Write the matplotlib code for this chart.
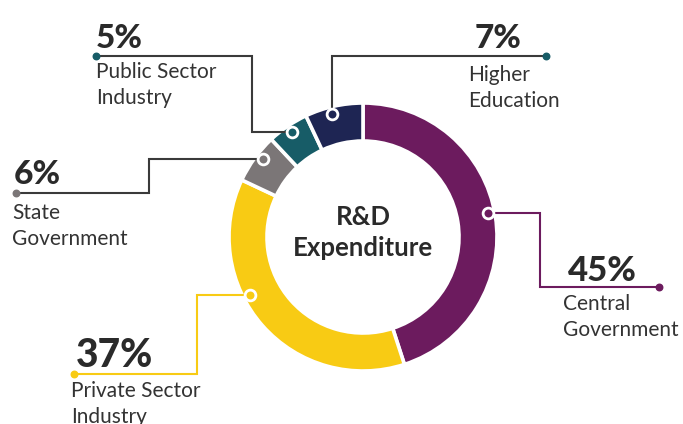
""" Donut chart of R&D expenditure by sector, with stepped leader lines."""

import numpy as np
import matplotlib
matplotlib.use("Agg")
import matplotlib.pyplot as plt

plt.rcParams.update({"font.family": "Lato"})

# data
sectors = [["Central", "Government"], ["Private Sector", "Industry"],
           ["State", "Government"], ["Public Sector", "Industry"],
           ["Higher", "Education"]]
shares = [45, 37, 6, 5, 7]  # percent
colors = ["#6c1b5e", "#f8cb14", "#7b7677", "#175c67", "#1e2553"]
center_title = ["R&D", "Expenditure"]

# layout (pixel coords, y measured from top of the picture)
W, H = 683, 424
cx, cy = 363, 237
r_out, r_in, r_mark = 134, 96, 127
marker_ang = [11, -153, 142, 124, 104]          # degrees, ccw from +x
elbow_x = [540, 197, 149, 252, None]           # None -> go vertical at once
end_y = [287, 374, 193, 56, 56]
end_x = [659, 74, 16, 96, 546]
line_col = ["#6c1b5e", "#f8cb14", "#3a3a3a", "#3a3a3a", "#3a3a3a"]
dot_col = ["#6c1b5e", "#f8cb14", "#7b7677", "#175c67", "#175c67"]
num_xy = [(568, 281), (76, 367), (14, 184), (96, 48), (475, 48)]
num_size = [25, 28, 24, 24, 24]
lab_xy = [(563, 310), (71, 397), (12, 219), (96, 78), (468, 81)]
lab_gap = 26

def Y(y):
    return H - y

fig = plt.figure(figsize=(W / 100, H / 100), dpi=100)
ax = fig.add_axes([0, 0, 1, 1])

ax.pie(shares, colors=colors, startangle=90, counterclock=False,
       center=(cx, Y(cy)), radius=r_out, frame=True,
       wedgeprops={"width": r_out - r_in, "edgecolor": "white",
                   "linewidth": 2.6})
ax.set_xlim(0, W)
ax.set_ylim(0, H)
ax.set_aspect("equal")
ax.axis("off")

for i in range(len(shares)):
    a = np.deg2rad(marker_ang[i])
    mx = cx + r_mark * np.cos(a)
    my = cy - r_mark * np.sin(a)
    if elbow_x[i] is None:
        xs = [mx, mx, end_x[i]]
        ys = [my, end_y[i], end_y[i]]
    else:
        xs = [mx, elbow_x[i], elbow_x[i], end_x[i]]
        ys = [my, my, end_y[i], end_y[i]]
    ax.plot(xs, [Y(v) for v in ys], color=line_col[i], lw=1.5,
            solid_joinstyle="miter", zorder=1)
    ax.scatter([end_x[i]], [Y(end_y[i])], s=22, color=dot_col[i], zorder=3)
    ax.scatter([mx], [Y(my)], s=60, facecolor=colors[i], edgecolor="white",
               linewidth=2.0, zorder=4)
    ax.text(num_xy[i][0], Y(num_xy[i][1]), f"{shares[i]}%",
            fontsize=num_size[i], fontweight="black", color="#2a2a2a",
            ha="left", va="baseline")
    for k, line in enumerate(sectors[i]):
        ax.text(lab_xy[i][0], Y(lab_xy[i][1] + k * lab_gap), line,
                fontsize=15, fontweight="normal", color="#333333",
                ha="left", va="baseline")

for k, line in enumerate(center_title):
    ax.text(cx, Y(225 + k * 31), line, fontsize=18.5, fontweight="bold",
            color="#2a2a2a", ha="center", va="baseline")

fig.savefig("out.png", dpi=100)
